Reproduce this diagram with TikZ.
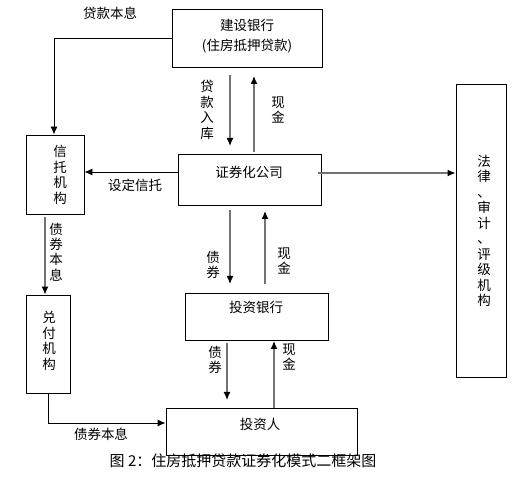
\documentclass[tikz,border=0pt]{standalone}
\usepackage{fontspec}
\newfontfamily\cjk{Noto Sans CJK SC}
\usetikzlibrary{arrows.meta}
\begin{document}
\begin{tikzpicture}[x=1pt,y=-1pt,
  box/.style={draw=black, line width=0.9pt, inner sep=0pt},
  txt/.style={font=\cjk\fontsize{13.5}{15.5}\selectfont, inner sep=0pt, align=center},
  vtxt/.style={font=\cjk\fontsize{13.5}{15.5}\selectfont, inner sep=0pt, align=center},
  garrow/.style={draw=black!55, line width=1.2pt, -{Latex[length=8pt,width=7pt,color=black]}},
  barrow/.style={draw=black, line width=0.9pt, -{Latex[length=8pt,width=7pt]}}]
\useasboundingbox (0,0) rectangle (520,478);
% boxes
\node[box, minimum width=150pt, minimum height=58pt] (jsyh) at (247,38) {};
\node[txt] (jsyhT) at (247,36) {建设银行\\[4pt](住房抵押贷款)};
\node[box, minimum width=58pt, minimum height=79pt] (xt) at (55,174.5) {};
\node[vtxt] (xtT) at (60,175) {信\\托\\机\\构};
\node[box, minimum width=143pt, minimum height=51pt] (zq) at (249.5,179.5) {};
\node[txt] (zqT) at (249,172) {证券化公司};
\node[box, minimum width=50pt, minimum height=293pt] (law) at (481,230.5) {};
\node[vtxt] (lawT) at (484,231) {法\\律\\、\\审\\计\\、\\评\\级\\机\\构};
\node[box, minimum width=44pt, minimum height=98pt] (df) at (48,344) {};
\node[vtxt] (dfT) at (49,341) {兑\\付\\机\\构};
\node[box, minimum width=143pt, minimum height=47pt] (tzyh) at (256.5,316.5) {};
\node[txt] (tzyhT) at (256,307) {投资银行};
\node[box, minimum width=191pt, minimum height=47pt] (tzr) at (261.5,431.5) {};
\node[txt] (tzrT) at (260,424) {投资人};
% free ends of connectors (gaps next to the boxes)
\coordinate (a1) at (54,38);
\coordinate (b1) at (48,423);
\coordinate (d1s) at (230,75);  \coordinate (d1e) at (230,146);
\coordinate (u1s) at (254,152); \coordinate (u1e) at (254,76);
\coordinate (r1s) at (318,173);
\coordinate (d2s) at (45,217);
\coordinate (d3s) at (230,210); \coordinate (d3e) at (230,284);
\coordinate (u3s) at (265,284); \coordinate (u3e) at (265,211);
\coordinate (d4s) at (227,343); \coordinate (d4e) at (227,400);
\coordinate (u4e) at (274,341);
% connectors
\draw[barrow] (jsyh.west |- a1) -- (a1) -- (xt.north -| a1);
\draw[garrow] (d1s) -- (d1e);
\draw[garrow] (u1s) -- (u1e);
\draw[barrow] (zq.west |- 0,172) -- (xt.east |- 0,172);
\draw[garrow] (r1s) -- (law.west |- r1s);
\draw[garrow] (d2s) -- (df.north -| d2s);
\draw[garrow] (d3s) -- (d3e);
\draw[garrow] (u3s) -- (u3e);
\draw[garrow] (d4s) -- (d4e);
\draw[garrow] (tzr.north -| u4e) -- (u4e);
\draw[barrow] (df.south -| b1) -- (b1) -- (tzr.west |- b1);
% labels
\node[txt] (l1) at (110,13) {贷款本息};
\node[vtxt] (l2) at (207,110) {贷\\款\\入\\库};
\node[vtxt] (l3) at (278,110) {现\\金};
\node[txt] (l4) at (135,185) {设定信托};
\node[vtxt] (l5) at (56,252) {债\\券\\本\\息};
\node[vtxt] (l6) at (213,265) {债\\券};
\node[vtxt] (l7) at (284,261) {现\\金};
\node[vtxt] (l8) at (215,360) {债\\券};
\node[vtxt] (l9) at (289,357) {现\\金};
\node[txt] (l10) at (101,434) {债券本息};
\node[font=\cjk\fontsize{15}{17}\selectfont, inner sep=0pt] (cap) at (243,461) {图 2：住房抵押贷款证券化模式二框架图};
\end{tikzpicture}
\end{document}
